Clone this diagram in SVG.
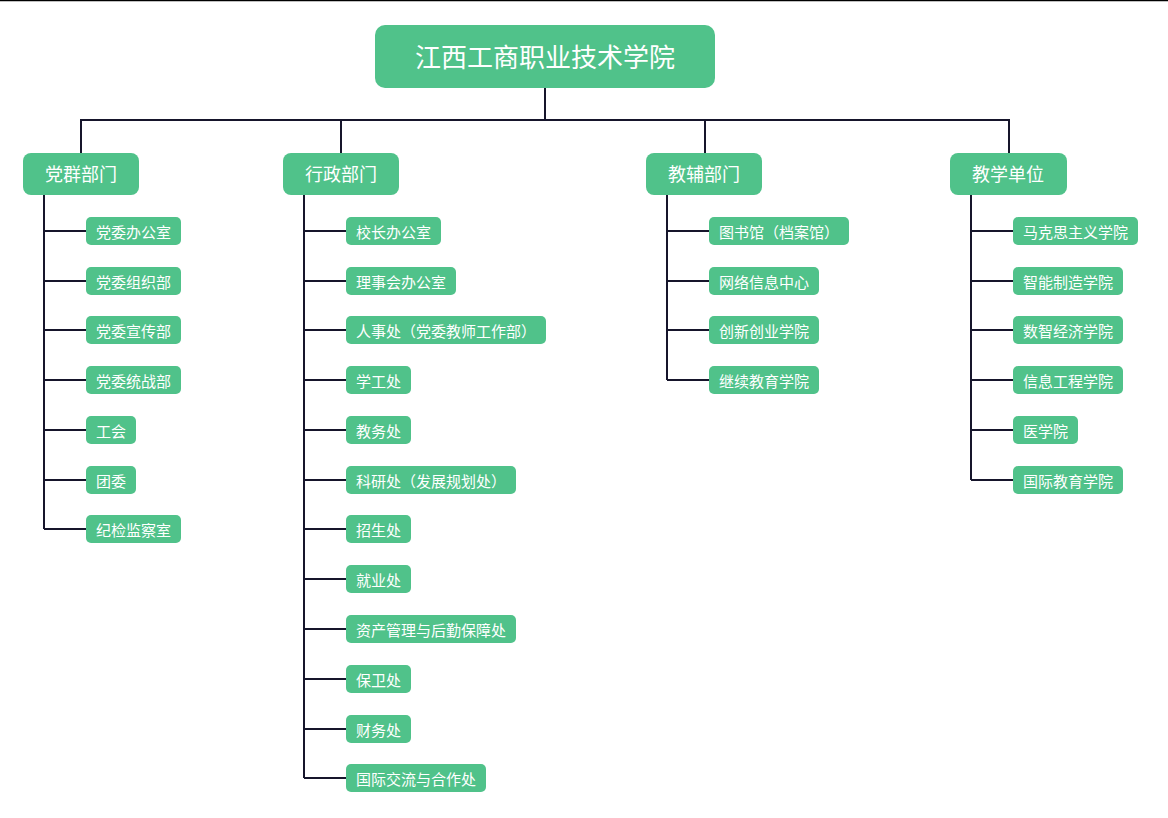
<svg xmlns="http://www.w3.org/2000/svg" width="1168" height="818" viewBox="0 0 1168 818">
<style>
.b{fill:#50c28a}
.t{fill:#fff;font-family:"Noto Sans CJK SC",sans-serif;text-anchor:middle;dominant-baseline:central}
.c{font-size:15px}
.k{font-size:18px}
.r{font-size:26px}
.ln{stroke:#16152b;stroke-width:2;fill:none}
</style>
<rect width="1168" height="818" fill="#fff"/>
<line x1="0" y1="0.5" x2="1168" y2="0.5" stroke="#000" stroke-width="1.5"/>
<g id="connectors" class="ln">
<path d="M545 88V120M81 153V120H1009V153M341 120V153M705 120V153"/>
<path d="M44 195V529M44 231H86M44 281H86M44 330H86M44 380H86M44 430H86M44 480H86M44 529H86"/>
<path d="M304 195V778M304 231H346M304 281H346M304 330H346M304 380H346M304 430H346M304 480H346M304 529H346M304 579H346M304 629H346M304 679H346M304 729H346M304 778H346"/>
<path d="M667 195V380M667 231H709M667 281H709M667 330H709M667 380H709"/>
<path d="M971 195V480M971 231H1013M971 281H1013M971 330H1013M971 380H1013M971 430H1013M971 480H1013"/>
</g>
<g id="root"><rect class="b" x="375" y="25" width="340" height="63" rx="10"/><text class="t r" x="545" y="55">江西工商职业技术学院</text></g>
<g id="cat1"><rect class="b" x="23" y="153" width="116" height="42" rx="8"/><text class="t k" x="81" y="173">党群部门</text></g>
<g id="cat2"><rect class="b" x="283" y="153" width="116" height="42" rx="8"/><text class="t k" x="341" y="173">行政部门</text></g>
<g id="cat3"><rect class="b" x="646" y="153" width="116" height="42" rx="8"/><text class="t k" x="704" y="173">教辅部门</text></g>
<g id="cat4"><rect class="b" x="950" y="153" width="117" height="42" rx="8"/><text class="t k" x="1008" y="173">教学单位</text></g>
<g id="a1"><rect class="b" x="86" y="217" width="95" height="28" rx="5"/><text class="t c" x="133.5" y="231">党委办公室</text></g>
<g id="a2"><rect class="b" x="86" y="267" width="95" height="28" rx="5"/><text class="t c" x="133.5" y="281">党委组织部</text></g>
<g id="a3"><rect class="b" x="86" y="316" width="95" height="28" rx="5"/><text class="t c" x="133.5" y="330">党委宣传部</text></g>
<g id="a4"><rect class="b" x="86" y="366" width="95" height="28" rx="5"/><text class="t c" x="133.5" y="380">党委统战部</text></g>
<g id="a5"><rect class="b" x="86" y="416" width="50" height="28" rx="5"/><text class="t c" x="111" y="430">工会</text></g>
<g id="a6"><rect class="b" x="86" y="466" width="50" height="28" rx="5"/><text class="t c" x="111" y="480">团委</text></g>
<g id="a7"><rect class="b" x="86" y="515" width="95" height="28" rx="5"/><text class="t c" x="133.5" y="529">纪检监察室</text></g>
<g id="b1"><rect class="b" x="346" y="217" width="95" height="28" rx="5"/><text class="t c" x="393.5" y="231">校长办公室</text></g>
<g id="b2"><rect class="b" x="346" y="267" width="110" height="28" rx="5"/><text class="t c" x="401" y="281">理事会办公室</text></g>
<g id="b3"><rect class="b" x="346" y="316" width="200" height="28" rx="5"/><text class="t c" x="446" y="330">人事处（党委教师工作部）</text></g>
<g id="b4"><rect class="b" x="346" y="366" width="65" height="28" rx="5"/><text class="t c" x="378.5" y="380">学工处</text></g>
<g id="b5"><rect class="b" x="346" y="416" width="65" height="28" rx="5"/><text class="t c" x="378.5" y="430">教务处</text></g>
<g id="b6"><rect class="b" x="346" y="466" width="170" height="28" rx="5"/><text class="t c" x="431" y="480">科研处（发展规划处）</text></g>
<g id="b7"><rect class="b" x="346" y="515" width="65" height="28" rx="5"/><text class="t c" x="378.5" y="529">招生处</text></g>
<g id="b8"><rect class="b" x="346" y="565" width="65" height="28" rx="5"/><text class="t c" x="378.5" y="579">就业处</text></g>
<g id="b9"><rect class="b" x="346" y="615" width="170" height="28" rx="5"/><text class="t c" x="431" y="629">资产管理与后勤保障处</text></g>
<g id="b10"><rect class="b" x="346" y="665" width="65" height="28" rx="5"/><text class="t c" x="378.5" y="679">保卫处</text></g>
<g id="b11"><rect class="b" x="346" y="715" width="65" height="28" rx="5"/><text class="t c" x="378.5" y="729">财务处</text></g>
<g id="b12"><rect class="b" x="346" y="764" width="140" height="28" rx="5"/><text class="t c" x="416" y="778">国际交流与合作处</text></g>
<g id="c1"><rect class="b" x="709" y="217" width="140" height="28" rx="5"/><text class="t c" x="779" y="231">图书馆（档案馆）</text></g>
<g id="c2"><rect class="b" x="709" y="267" width="110" height="28" rx="5"/><text class="t c" x="764" y="281">网络信息中心</text></g>
<g id="c3"><rect class="b" x="709" y="316" width="110" height="28" rx="5"/><text class="t c" x="764" y="330">创新创业学院</text></g>
<g id="c4"><rect class="b" x="709" y="366" width="110" height="28" rx="5"/><text class="t c" x="764" y="380">继续教育学院</text></g>
<g id="d1"><rect class="b" x="1013" y="217" width="125" height="28" rx="5"/><text class="t c" x="1075.5" y="231">马克思主义学院</text></g>
<g id="d2"><rect class="b" x="1013" y="267" width="110" height="28" rx="5"/><text class="t c" x="1068" y="281">智能制造学院</text></g>
<g id="d3"><rect class="b" x="1013" y="316" width="110" height="28" rx="5"/><text class="t c" x="1068" y="330">数智经济学院</text></g>
<g id="d4"><rect class="b" x="1013" y="366" width="110" height="28" rx="5"/><text class="t c" x="1068" y="380">信息工程学院</text></g>
<g id="d5"><rect class="b" x="1013" y="416" width="65" height="28" rx="5"/><text class="t c" x="1045.5" y="430">医学院</text></g>
<g id="d6"><rect class="b" x="1013" y="466" width="110" height="28" rx="5"/><text class="t c" x="1068" y="480">国际教育学院</text></g>
</svg>
